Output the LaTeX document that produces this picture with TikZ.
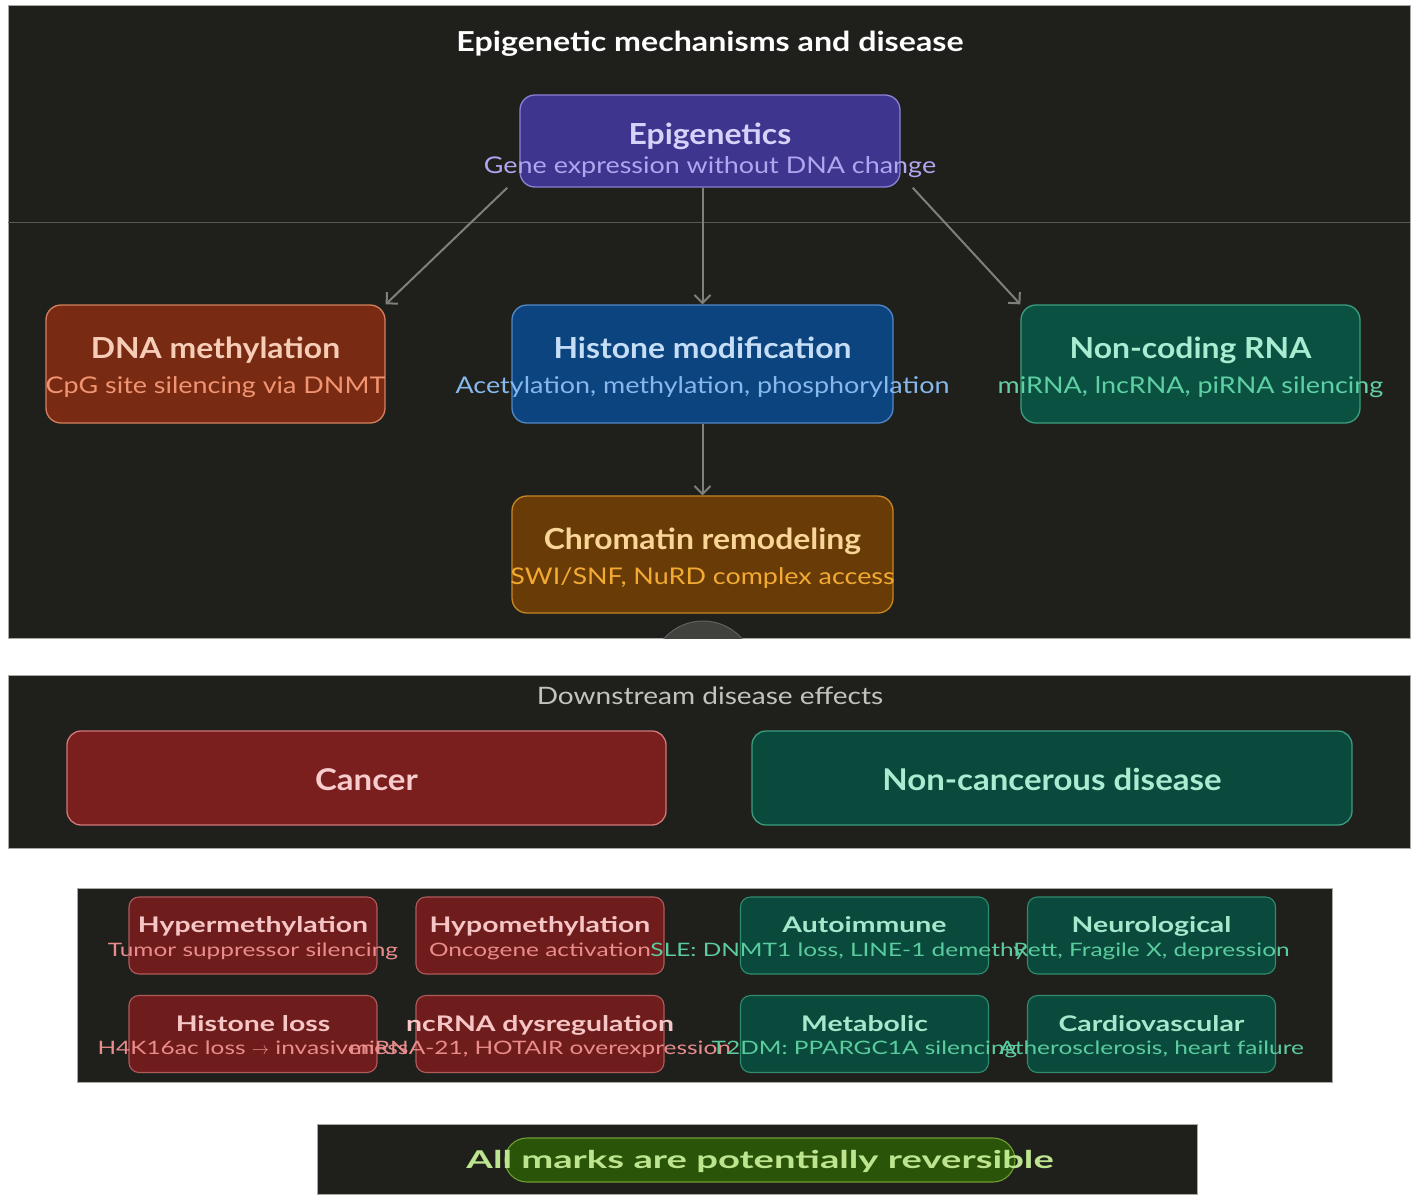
\documentclass[tikz,border=0pt]{standalone}
\usepackage{fontspec}
\setmainfont{Lato}
\newfontfamily\headface[FakeStretch=1.1]{Lato}
\newfontfamily\noteface[FakeStretch=1.17]{Lato}
\newfontfamily\wideface[FakeStretch=1.32]{Lato}
\newfontfamily\pillface[FakeStretch=1.56]{Lato}
\usetikzlibrary{arrows.meta}

\definecolor{panelbg}{HTML}{1F201C}
\definecolor{panelrim}{HTML}{A8A8A4}
\definecolor{seamgray}{HTML}{5A5A55}
\definecolor{arrowgray}{HTML}{80807A}
\definecolor{epifill}{HTML}{3E358F}
\definecolor{epiedge}{HTML}{8B82D6}
\definecolor{epihead}{HTML}{D6D2FA}
\definecolor{epinote}{HTML}{B0A6F0}
\definecolor{dnafill}{HTML}{782B12}
\definecolor{dnaedge}{HTML}{D4805E}
\definecolor{dnahead}{HTML}{F7CDB7}
\definecolor{dnanote}{HTML}{F29472}
\definecolor{hisfill}{HTML}{0C447F}
\definecolor{hisedge}{HTML}{5388C8}
\definecolor{hishead}{HTML}{C5DEF6}
\definecolor{hisnote}{HTML}{86B8EC}
\definecolor{ncrfill}{HTML}{0B5142}
\definecolor{ncredge}{HTML}{3A9E7E}
\definecolor{ncrhead}{HTML}{A9ECD2}
\definecolor{ncrnote}{HTML}{5FD0A4}
\definecolor{chrfill}{HTML}{683B07}
\definecolor{chredge}{HTML}{C8861C}
\definecolor{chrhead}{HTML}{F9D597}
\definecolor{chrnote}{HTML}{F2AA32}
\definecolor{redfill}{HTML}{6F1C1C}
\definecolor{rededge}{HTML}{B05A5A}
\definecolor{redhead}{HTML}{F6C6C6}
\definecolor{rednote}{HTML}{EA8C8C}
\definecolor{grnfill}{HTML}{0A4A3C}
\definecolor{grnedge}{HTML}{2F8C6E}
\definecolor{grnhead}{HTML}{A6E8CC}
\definecolor{grnnote}{HTML}{5ACC9E}
\definecolor{canfill}{HTML}{7A1E1E}
\definecolor{canedge}{HTML}{D27878}
\definecolor{canhead}{HTML}{F8CCCC}
\definecolor{pillfill}{HTML}{2A5408}
\definecolor{pilledge}{HTML}{6F9F33}
\definecolor{pillnote}{HTML}{BDE48E}

\begin{document}
\begin{tikzpicture}[x=1pt,y=-1pt,
    panel/.style={fill=panelbg, draw=panelrim, line width=0.6pt},
    mech/.style={draw, rounded corners=15pt, line width=1.3pt, inner sep=0pt},
    tag/.style={draw, rounded corners=10pt, line width=1.1pt, inner sep=0pt,
      minimum width=248pt, minimum height=77pt},
    lbl/.style={inner sep=0pt, anchor=base},
    head/.style={lbl, font=\headface\fontsize{29}{34}\selectfont\bfseries},
    note/.style={lbl, font=\noteface\fontsize{23}{28}\selectfont},
    taghead/.style={lbl, font=\wideface\fontsize{21.5}{25}\selectfont\bfseries},
    tagnote/.style={lbl, font=\wideface\fontsize{18.5}{22}\selectfont},
    arr/.style={draw=arrowgray, line width=2pt,
      -{Straight Barb[length=8pt,width=16pt]}}
  ]

        \useasboundingbox[fill=white] (0,0) rectangle (1416,1194);

        %%% panels %%%
        \draw[panel] (8,5) rectangle (1410,638);
        \draw[panel] (8,675) rectangle (1410,848);
        \draw[panel] (77,888) rectangle (1332,1082);
        \draw[panel] (317,1124) rectangle (1197,1194);

        %%% mechanisms %%%
        \node[lbl, text=white, font=\noteface\fontsize{27.5}{32}\selectfont\bfseries] (title) at (710,51) {Epigenetic mechanisms and disease};

        \node[mech, fill=epifill, draw=epiedge, minimum width=380pt, minimum height=92pt] (epi) at (710,141) {};
        \node[head, text=epihead] (epiH) at (710,144) {Epigenetics};
        \node[note, text=epinote] (epiN) at (710,173) {Gene expression without DNA change};

        \node[mech, fill=dnafill, draw=dnaedge, minimum width=339pt, minimum height=118pt] (dna) at (215.5,364) {};
        \node[head, text=dnahead] (dnaH) at (215.5,358) {DNA methylation};
        \node[note, text=dnanote] (dnaN) at (215.5,393) {CpG site silencing via DNMT};

        \node[mech, fill=hisfill, draw=hisedge, minimum width=381pt, minimum height=118pt] (his) at (702.5,364) {};
        \node[head, text=hishead] (hisH) at (702.5,358) {Histone modification};
        \node[note, text=hisnote] (hisN) at (702.5,393) {Acetylation, methylation, phosphorylation};

        \node[mech, fill=ncrfill, draw=ncredge, minimum width=339pt, minimum height=118pt] (ncr) at (1190.5,364) {};
        \node[head, text=ncrhead] (ncrH) at (1190.5,358) {Non-coding RNA};
        \node[note, text=ncrnote] (ncrN) at (1190.5,393) {miRNA, lncRNA, piRNA silencing};

        \node[mech, fill=chrfill, draw=chredge, minimum width=381pt, minimum height=117pt] (chr) at (702.5,554.5) {};
        \node[head, text=chrhead] (chrH) at (702.5,549) {Chromatin remodeling};
        \node[note, text=chrnote] (chrN) at (702.5,584) {SWI/SNF, NuRD complex access};

        \begin{scope}
          \clip (8,5) rectangle (1410,638);
          \draw[fill=panelbg!85!white, draw=panelbg!70!white, line width=1pt] (703,673) circle[radius=52pt];
        \end{scope}

        \draw[seamgray, line width=0.8pt] (8,222) -- (1410,222);

        \draw[arr] ([xshift=-12pt]epi.south west) -- (dna.north east);
        \draw[arr] (his.north |- epi.south) -- (his.north);
        \draw[arr] ([xshift=12pt]epi.south east) -- (ncr.north west);
        \draw[arr] (his.south) -- (chr.north);

        %%% downstream %%%
        \node[lbl, text=panelrim!70!white, font=\noteface\fontsize{24}{28}\selectfont] (down) at (710,704) {Downstream disease effects};
        \node[mech, rounded corners=14pt, fill=canfill, draw=canedge, minimum width=599pt, minimum height=94pt] (cancer) at (366.5,778) {};
        \node[lbl, text=canhead, font=\headface\fontsize{30}{34}\selectfont\bfseries] (cancerT) at (366.5,790) {Cancer};
        \node[mech, rounded corners=14pt, fill=grnfill, draw=ncredge, minimum width=600pt, minimum height=94pt] (noncan) at (1052,778) {};
        \node[lbl, text=ncrhead, font=\headface\fontsize{30}{34}\selectfont\bfseries] (noncanT) at (1052,790) {Non-cancerous disease};

        %%% disease classes %%%
        \foreach \cx/\cy/\sx/\nm/\hd/\nt/\c in {
            253/935.5/253/hyper/Hypermethylation/{Tumor suppressor silencing}/red,
            540/935.5/540/hypo/Hypomethylation/{Oncogene activation}/red,
            864.5/935.5/841/auto/Autoimmune/{SLE: DNMT1 loss, LINE-1 demethyl}/grn,
            1151.5/935.5/1151.5/neuro/Neurological/{Rett, Fragile X, depression}/grn,
            253/1034/253/hloss/{Histone loss}/{H4K16ac loss $\rightarrow$ invasiveness}/red,
            540/1034/540/ncdys/{ncRNA dysregulation}/{miRNA-21, HOTAIR overexpression}/red,
            864.5/1034/864.5/meta/Metabolic/{T2DM: PPARGC1A silencing}/grn,
            1151.5/1034/1151.5/cardio/Cardiovascular/{Atherosclerosis, heart failure}/grn}{
          \node[tag, fill=\c fill, draw=\c edge] (\nm) at (\cx,\cy) {};
          \node[taghead, text=\c head] (\nm H) at (\cx,\cy-3) {\hd};
          \node[tagnote, text=\c note] (\nm N) at (\sx,\cy+20.5) {\nt};
        }

        %%% reversibility %%%
        \node[draw=pilledge, fill=pillfill, line width=1.1pt, rounded corners=22pt, minimum width=510pt, minimum height=44pt, inner sep=0pt] (pill) at (760,1160) {};
        \node[lbl, text=pillnote, font=\pillface\fontsize{24.5}{28}\selectfont\bfseries] (pillT) at (760,1168) {All marks are potentially reversible};

\end{tikzpicture}
\end{document}
